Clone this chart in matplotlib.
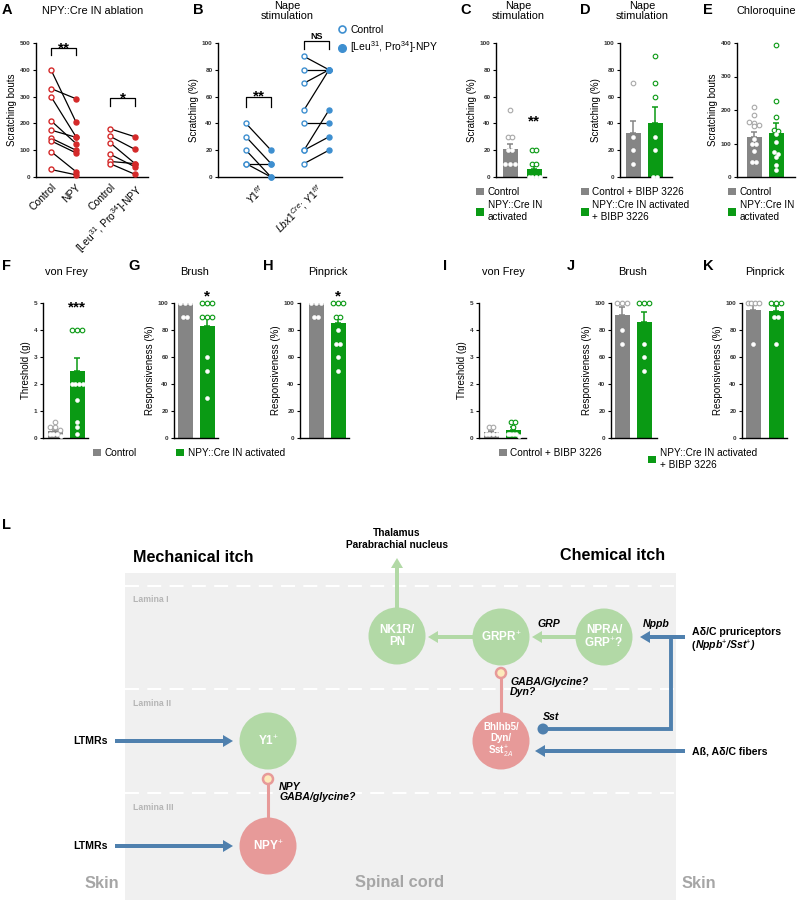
import numpy as np
import matplotlib.pyplot as plt
from matplotlib.lines import Line2D
from matplotlib.patches import Patch, Rectangle, Circle

# ── Fonts ─────────────────────────────────────────────────────────────────────

plt.rcParams["font.family"] = ["Liberation Sans", "DejaVu Sans"]
plt.rcParams["mathtext.fontset"] = "custom"
plt.rcParams["mathtext.rm"] = "Liberation Sans"
plt.rcParams["mathtext.it"] = "Liberation Sans:italic"
plt.rcParams["mathtext.bf"] = "Liberation Sans:bold"

W, H = 800, 900

GRAY = "#858585"
GRAY_PT = "#a8a8a8"
GREEN = "#0a9a14"
RED = "#d42a2a"
BLUE = "#3e8fd0"

# ── Data ──────────────────────────────────────────────────────────────────────

# A: NPY::Cre IN ablation, scratching bouts (paired)
a_npy_ctrl = [400, 330, 300, 210, 175, 145, 135, 95, 28]
a_npy_trt = [205, 292, 150, 125, 148, 100, 90, 20, 8]
a_leu_ctrl = [180, 152, 128, 85, 58, 50]
a_leu_trt = [150, 103, 50, 38, 50, 10]
a_labels = ["Control", "NPY", "Control", "[Leu$^{31}$, Pro$^{34}$]-NPY"]

# B: nape stimulation, scratching % (paired)
b_y1_ctrl = [40, 30, 20, 10, 10]
b_y1_trt = [20, 10, 0, 10, 0]
b_lbx_ctrl = [90, 80, 70, 50, 40, 20, 20, 10]
b_lbx_trt = [80, 80, 80, 80, 40, 50, 30, 20]
b_labels = [r"$Y1^{f/f}$", r"$Lbx1^{Cre}$; $Y1^{f/f}$"]

# C-E: bar + dot panels (points, mean, sem)
c_ctrl = [50, 30, 30, 20, 20, 10, 10, 10]
c_npy = [20, 20, 10, 10, 0, 0, 0, 0]
c_mean, c_sem = [21, 6], [4, 2.5]

d_ctrl = [70, 30, 20, 10]
d_npy = [90, 70, 60, 30, 20, 0, 0]
d_mean, d_sem = [33, 40], [8.5, 12]

e_ctrl = [208, 185, 165, 160, 155, 152, 112, 100, 100, 78, 45, 45]
e_npy = [395, 227, 180, 140, 138, 128, 105, 75, 70, 60, 35, 20]
e_mean, e_sem = [118, 130], [15, 30]

# F-H: mechanical sensitivity
f_ctrl = [0.6, 0.4, 0.4, 0.3, 0.16, 0.16, 0.16, 0.07]
f_npy = [4, 4, 4, 2, 2, 2, 2, 1.4, 0.6, 0.4, 0.16]
f_mean, f_sem = [0.25, 2.5], [0.08, 0.45]

g_ctrl = [100, 100, 100, 90, 90]
g_npy = [100, 100, 100, 90, 90, 90, 60, 50, 30]
g_mean, g_sem = [100, 83], [0, 6]

h_ctrl = [100, 100, 100, 90, 90]
h_npy = [100, 100, 100, 90, 90, 80, 70, 70, 60, 50]
h_mean, h_sem = [100, 85], [0, 5]

# I-K: same with BIBP 3226
i_ctrl = [0.4, 0.4, 0.16, 0.16, 0.16, 0.16]
i_npy = [0.6, 0.6, 0.4, 0.16, 0.16, 0.16, 0.16, 0.07]
i_mean, i_sem = [0.22, 0.3], [0.05, 0.1]

j_ctrl = [100, 100, 100, 80, 70]
j_npy = [100, 100, 100, 70, 60, 50]
j_mean, j_sem = [91, 86], [6, 7]

k_ctrl = [100, 100, 100, 100, 70]
k_npy = [100, 100, 100, 90, 90, 70]
k_mean, k_sem = [95, 94], [5, 4]

# ── Helpers ───────────────────────────────────────────────────────────────────

fig = plt.figure(figsize=(W / 100, H / 100), dpi=100)

# overlay in pixel coordinates for letters, titles and the schematic
ov = fig.add_axes([0, 0, 1, 1])
ov.set_xlim(0, W)
ov.set_ylim(H, 0)
ov.axis("off")


def px_axes(left, top, right, bottom, ylim, yticks, ylabel):
    ax = fig.add_axes([left / W, 1 - bottom / H, (right - left) / W, (bottom - top) / H])
    ax.patch.set_alpha(0)
    ax.spines[["top", "right"]].set_visible(False)
    ax.spines[["left", "bottom"]].set_linewidth(1.0)
    ax.set_ylim(*ylim)
    ax.set_yticks(yticks, labels=[f"{t:g}" for t in yticks], fontweight="bold", color="#333333")
    ax.tick_params(axis="y", labelsize=4.6, length=2.5, width=0.8, pad=1.5)
    ax.tick_params(axis="x", length=0)
    ax.set_ylabel(ylabel, fontsize=7, labelpad=2)
    return ax


def spread(vals, tol, step, maxw):
    vals = np.asarray(vals, float)
    offs = np.zeros(len(vals))
    used = np.zeros(len(vals), bool)
    for i in range(len(vals)):
        if used[i]:
            continue
        grp = np.where((np.abs(vals - vals[i]) <= tol) & ~used)[0]
        used[grp] = True
        n = len(grp)
        st = min(step, maxw / max(n - 1, 1))
        offs[grp] = (np.arange(n) - (n - 1) / 2) * st
    return offs


def bar_panel(ax, groups, a, b0, b1, e, ymax):
    unit = b1 - b0
    ax.set_xlim((a - b0) / unit, 1 + (e - b1) / unit)
    for i, (pts, mean, sem, color, pcolor) in enumerate(groups):
        ax.bar(i, mean, width=15 / unit, color=color, lw=0, zorder=1)
        if sem > 0:
            ax.errorbar(i, mean, yerr=[[0], [sem]], fmt="none", ecolor=color,
                        elinewidth=1.1, capsize=2.3, capthick=1.1, zorder=1)
        pts = np.asarray(pts, float)
        offs = spread(pts, ymax * 0.025, 4.6 / unit, 11 / unit)
        up = pts > mean
        ax.scatter(i + offs[up], pts[up], s=11, facecolor="white", edgecolor=pcolor,
                   lw=0.8, zorder=3, clip_on=False)
        ax.scatter(i + offs[~up], pts[~up], s=8, facecolor="white", edgecolor="white",
                   lw=0.4, zorder=3, clip_on=False)
    ax.set_xticks([])


def bracket(ax, x0, x1, y, drop, text, size=11, off=-3):
    ax.plot([x0, x0, x1, x1], [y - drop, y, y, y - drop], color="black", lw=0.9, clip_on=False)
    ax.annotate(text, ((x0 + x1) / 2, y), xytext=(0, off), textcoords="offset points",
                ha="center", va="baseline", fontsize=size, fontweight="bold", annotation_clip=False)


def star(ax, x, y, text):
    ax.annotate(text, (x, y), xytext=(0, -6), textcoords="offset points",
                ha="center", va="baseline", fontsize=11, fontweight="bold", annotation_clip=False)


def square_legend(x, y, labels, colors):
    handles = [Patch(facecolor=c, edgecolor="none") for c in colors]
    fig.legend(handles, labels, loc="upper left", bbox_to_anchor=(x / W, 1 - y / H),
               frameon=False, fontsize=7.2, handlelength=0.8, handleheight=0.8,
               handletextpad=0.35, borderpad=0, borderaxespad=0, labelspacing=0.35)


# ── Letters and titles ────────────────────────────────────────────────────────

letters = {"A": (2, 10), "B": (193, 10), "C": (460, 10), "D": (580, 10), "E": (703, 10),
           "F": (2, 266), "G": (128, 266), "H": (263, 266), "I": (443, 266),
           "J": (567, 266), "K": (703, 266), "L": (2, 525)}
for k, (x, y) in letters.items():
    ov.text(x, y, k, fontsize=10.5, fontweight="bold", ha="left", va="center")

titles = [("NPY::Cre IN ablation", 93, 11), ("Nape\nstimulation", 287, 11),
          ("Nape\nstimulation", 518, 11), ("Nape\nstimulation", 642, 11),
          ("Chloroquine", 766, 11), ("von Frey", 66, 272), ("Brush", 195, 272),
          ("Pinprick", 328, 272), ("von Frey", 503, 272), ("Brush", 633, 272),
          ("Pinprick", 765, 272)]
for t, x, y in titles:
    ov.text(x, y, t, fontsize=7.9, ha="center", va="center", linespacing=1.05)

# ── Panel A ───────────────────────────────────────────────────────────────────

ax = px_axes(36, 43, 148, 177, (0, 500), [0, 100, 200, 300, 400, 500], "Scratching bouts")
a_x = [0, 1, 2.36, 3.36]
ax.set_xlim(-0.6, 3.88)
for (ctrl, trt), x0, x1 in [((a_npy_ctrl, a_npy_trt), a_x[0], a_x[1]),
                            ((a_leu_ctrl, a_leu_trt), a_x[2], a_x[3])]:
    for c, t in zip(ctrl, trt):
        ax.plot([x0, x1], [c, t], color="black", lw=0.9, zorder=1)
    ax.scatter([x0] * len(ctrl), ctrl, s=13, facecolor="white", edgecolor=RED, lw=1.0, zorder=3, clip_on=False)
    ax.scatter([x1] * len(trt), trt, s=13, color=RED, zorder=3, clip_on=False)
ax.set_xticks(a_x)
ax.set_xticklabels(a_labels, rotation=45, ha="right", rotation_mode="anchor", fontsize=7.5)
bracket(ax, a_x[0], a_x[1], 481, 27, "**")
bracket(ax, a_x[2], a_x[3], 295, 30, "*")

# ── Panel B ───────────────────────────────────────────────────────────────────

ax = px_axes(218, 43, 342, 177, (0, 100), [0, 20, 40, 60, 80, 100], "Scratching (%)")
b_x = [0, 1, 2.32, 3.32]
ax.set_xlim(-1.12, 3.84)
for (ctrl, trt), x0, x1 in [((b_y1_ctrl, b_y1_trt), b_x[0], b_x[1]),
                            ((b_lbx_ctrl, b_lbx_trt), b_x[2], b_x[3])]:
    for c, t in zip(ctrl, trt):
        ax.plot([x0, x1], [c, t], color="black", lw=0.9, zorder=1)
    ax.scatter([x0] * len(ctrl), ctrl, s=13, facecolor="white", edgecolor=BLUE, lw=1.0, zorder=3, clip_on=False)
    ax.scatter([x1] * len(trt), trt, s=13, color=BLUE, zorder=3, clip_on=False)
ax.set_xticks([0.5, 2.82])
ax.set_xticklabels(b_labels, rotation=45, ha="right", rotation_mode="anchor", fontsize=7.5)
bracket(ax, b_x[0], b_x[1], 60, 8, "**")
bracket(ax, b_x[2], b_x[3], 101.5, 6, "NS", size=6.5, off=1.5)
handles = [Line2D([], [], marker="o", ls="", mfc="white", mec=BLUE, mew=1.2, ms=5),
           Line2D([], [], marker="o", ls="", color=BLUE, ms=5.5)]
fig.legend(handles, ["Control", "[Leu$^{31}$, Pro$^{34}$]-NPY"], loc="upper left",
           bbox_to_anchor=(338 / W, 1 - 25 / H), frameon=False, fontsize=7.5,
           handlelength=0.8, handletextpad=0.4, borderpad=0, borderaxespad=0, labelspacing=0.45)

# ── Panels C-E ────────────────────────────────────────────────────────────────

ax = px_axes(496, 43, 546, 177, (0, 100), [0, 20, 40, 60, 80, 100], "Scratching (%)")
bar_panel(ax, [(c_ctrl, c_mean[0], c_sem[0], GRAY, GRAY_PT),
               (c_npy, c_mean[1], c_sem[1], GREEN, GREEN)], 496, 510, 534, 546, 100)
star(ax, 1, 45, "**")
square_legend(476, 187, ["Control", "NPY::Cre IN\nactivated"], [GRAY, GREEN])

ax = px_axes(620, 43, 672, 177, (0, 100), [0, 20, 40, 60, 80, 100], "Scratching (%)")
bar_panel(ax, [(d_ctrl, d_mean[0], d_sem[0], GRAY, GRAY_PT),
               (d_npy, d_mean[1], d_sem[1], GREEN, GREEN)], 620, 633, 655, 672, 100)
square_legend(581, 187, ["Control + BIBP 3226", "NPY::Cre IN activated\n+ BIBP 3226"], [GRAY, GREEN])

ax = px_axes(737, 43, 795, 177, (0, 400), [0, 100, 200, 300, 400], "Scratching bouts")
bar_panel(ax, [(e_ctrl, e_mean[0], e_sem[0], GRAY, GRAY_PT),
               (e_npy, e_mean[1], e_sem[1], GREEN, GREEN)], 737, 754, 776, 795, 400)
square_legend(728, 187, ["Control", "NPY::Cre IN\nactivated"], [GRAY, GREEN])

# ── Panels F-K ────────────────────────────────────────────────────────────────

row2 = [
    (43, 55, 77, 88, (0, 5), [0, 1, 2, 3, 4, 5], "Threshold (g)", f_ctrl, f_npy, f_mean, f_sem, 5),
    (174, 185, 207, 218, (0, 100), [0, 20, 40, 60, 80, 100], "Responsiveness (%)", g_ctrl, g_npy, g_mean, g_sem, 100),
    (300, 316, 338, 349, (0, 100), [0, 20, 40, 60, 80, 100], "Responsiveness (%)", h_ctrl, h_npy, h_mean, h_sem, 100),
    (479, 491, 513, 526, (0, 5), [0, 1, 2, 3, 4, 5], "Threshold (g)", i_ctrl, i_npy, i_mean, i_sem, 5),
    (611, 622, 644, 657, (0, 100), [0, 20, 40, 60, 80, 100], "Responsiveness (%)", j_ctrl, j_npy, j_mean, j_sem, 100),
    (742, 753, 776, 787, (0, 100), [0, 20, 40, 60, 80, 100], "Responsiveness (%)", k_ctrl, k_npy, k_mean, k_sem, 100),
]
row2_axes = []
for a, b0, b1, e, ylim, yt, ylab, ctrl, trt, mean, sem, ymax in row2:
    ax = px_axes(a, 303, e, 438, ylim, yt, ylab)
    bar_panel(ax, [(ctrl, mean[0], sem[0], GRAY, GRAY_PT),
                   (trt, mean[1], sem[1], GREEN, GREEN)], a, b0, b1, e, ymax)
    row2_axes.append(ax)
star(row2_axes[0], 1, 5.0, "***")
star(row2_axes[1], 1, 108, "*")
star(row2_axes[2], 1, 108, "*")
square_legend(93, 448, ["Control"], [GRAY])
square_legend(176, 448, ["NPY::Cre IN activated"], [GREEN])
square_legend(499, 448, ["Control + BIBP 3226"], [GRAY])
square_legend(648, 448, ["NPY::Cre IN activated\n+ BIBP 3226"], [GREEN])

# ── Panel L: schematic ────────────────────────────────────────────────────────

LG = "#b2d9a6"
LR = "#e79a99"
LB = "#4f80ae"
TXG = "#a6a6a6"

ov.add_patch(Rectangle((125, 573), 551, 327, fc="#f0f0f0", ec="none", zorder=0))
for y in (586, 689, 793):
    ov.plot([125, 676], [y, y], color="white", lw=1.5, dashes=(6.7, 4), zorder=1)
for t, y in [("Lamina I", 599), ("Lamina II", 703), ("Lamina III", 807)]:
    ov.text(133, y, t, fontsize=6.3, fontweight="bold", color="#b5b5b5", va="center")
for t, x in [("Skin", 85), ("Spinal cord", 355), ("Skin", 682)]:
    ov.text(x, 883, t, fontsize=11.8, fontweight="bold", color=TXG, va="center")

ov.text(133, 557, "Mechanical itch", fontsize=11.6, fontweight="bold", va="center")
ov.text(560, 555, "Chemical itch", fontsize=11.6, fontweight="bold", va="center")
ov.text(397, 539, "Thalamus\nParabrachial nucleus", fontsize=7.3, fontweight="bold",
        ha="center", va="center", linespacing=1.2)


def arrow(x0, y0, x1, y1, color):
    ov.arrow(x0, y0, x1 - x0, y1 - y0, width=4, head_width=12, head_length=10,
             length_includes_head=True, fc=color, ec="none", zorder=2)


def ball(x, y, fc, ec):
    ov.add_patch(Circle((x, y), 5, fc=fc, ec=ec, lw=1.8, zorder=4))


# green excitatory chain
arrow(397, 608, 397, 558, LG)
arrow(576, 637, 532, 637, LG)
arrow(473, 637, 428, 637, LG)

# inhibitory connections
ov.plot([501, 501], [673, 713], color=LR, lw=2.2, zorder=2)
ball(501, 673, "#fdeabb", LR)
ov.plot([268, 268], [779, 818], color=LR, lw=2.2, zorder=2)
ball(268, 779, "#fdeabb", LR)

# primary afferents
arrow(685, 637, 640, 637, LB)
ov.plot([671, 671, 543], [637, 729, 729], color=LB, lw=2.8, zorder=2, solid_joinstyle="miter")
ov.add_patch(Circle((543, 729), 5.5, fc=LB, ec="none", zorder=4))
arrow(685, 751, 535, 751, LB)
arrow(115, 741, 233, 741, LB)
arrow(115, 846, 233, 846, LB)

cells = [("NK1R/\nPN", 397, 636, LG, 8.5), ("GRPR$^{+}$", 501, 637, LG, 8.5),
         ("NPRA/\nGRP$^{+}$?", 604, 637, LG, 8.5), ("Bhlhb5/\nDyn/\nSst$_{2A}^{+}$", 501, 741, LR, 7),
         ("Y1$^{+}$", 268, 741, LG, 8.5), ("NPY$^{+}$", 268, 846, LR, 8.5)]
for t, x, y, c, fs in cells:
    ov.add_patch(Circle((x, y), 28.5, fc=c, ec="none", zorder=3))
    ov.text(x, y, t, fontsize=fs, fontweight="bold", color="white", ha="center", va="center",
            linespacing=1.1, zorder=5)

lab = dict(fontsize=7.6, fontweight="bold", va="center")
ov.text(537, 624, "GRP", style="italic", **lab)
ov.text(643, 624, "Nppb", style="italic", **lab)
ov.text(543, 717, "Sst", style="italic", **lab)
ov.text(510, 687, "GABA/Glycine?\nDyn?", style="italic", linespacing=1.1, **lab)
ov.text(279, 792, "NPY\nGABA/glycine?", style="italic", linespacing=1.1, **lab)
ov.text(692, 632, "Aδ/C pruriceptors", **lab)
ov.text(692, 646, "(", **lab)
ov.text(695, 646, "Nppb$^{+}$/Sst$^{+}$)", style="italic", **lab)
ov.text(692, 752, "Aß, Aδ/C fibers", **lab)
ov.text(73, 741, "LTMRs", **lab)
ov.text(73, 846, "LTMRs", **lab)

fig.savefig("out.png", dpi=100)
